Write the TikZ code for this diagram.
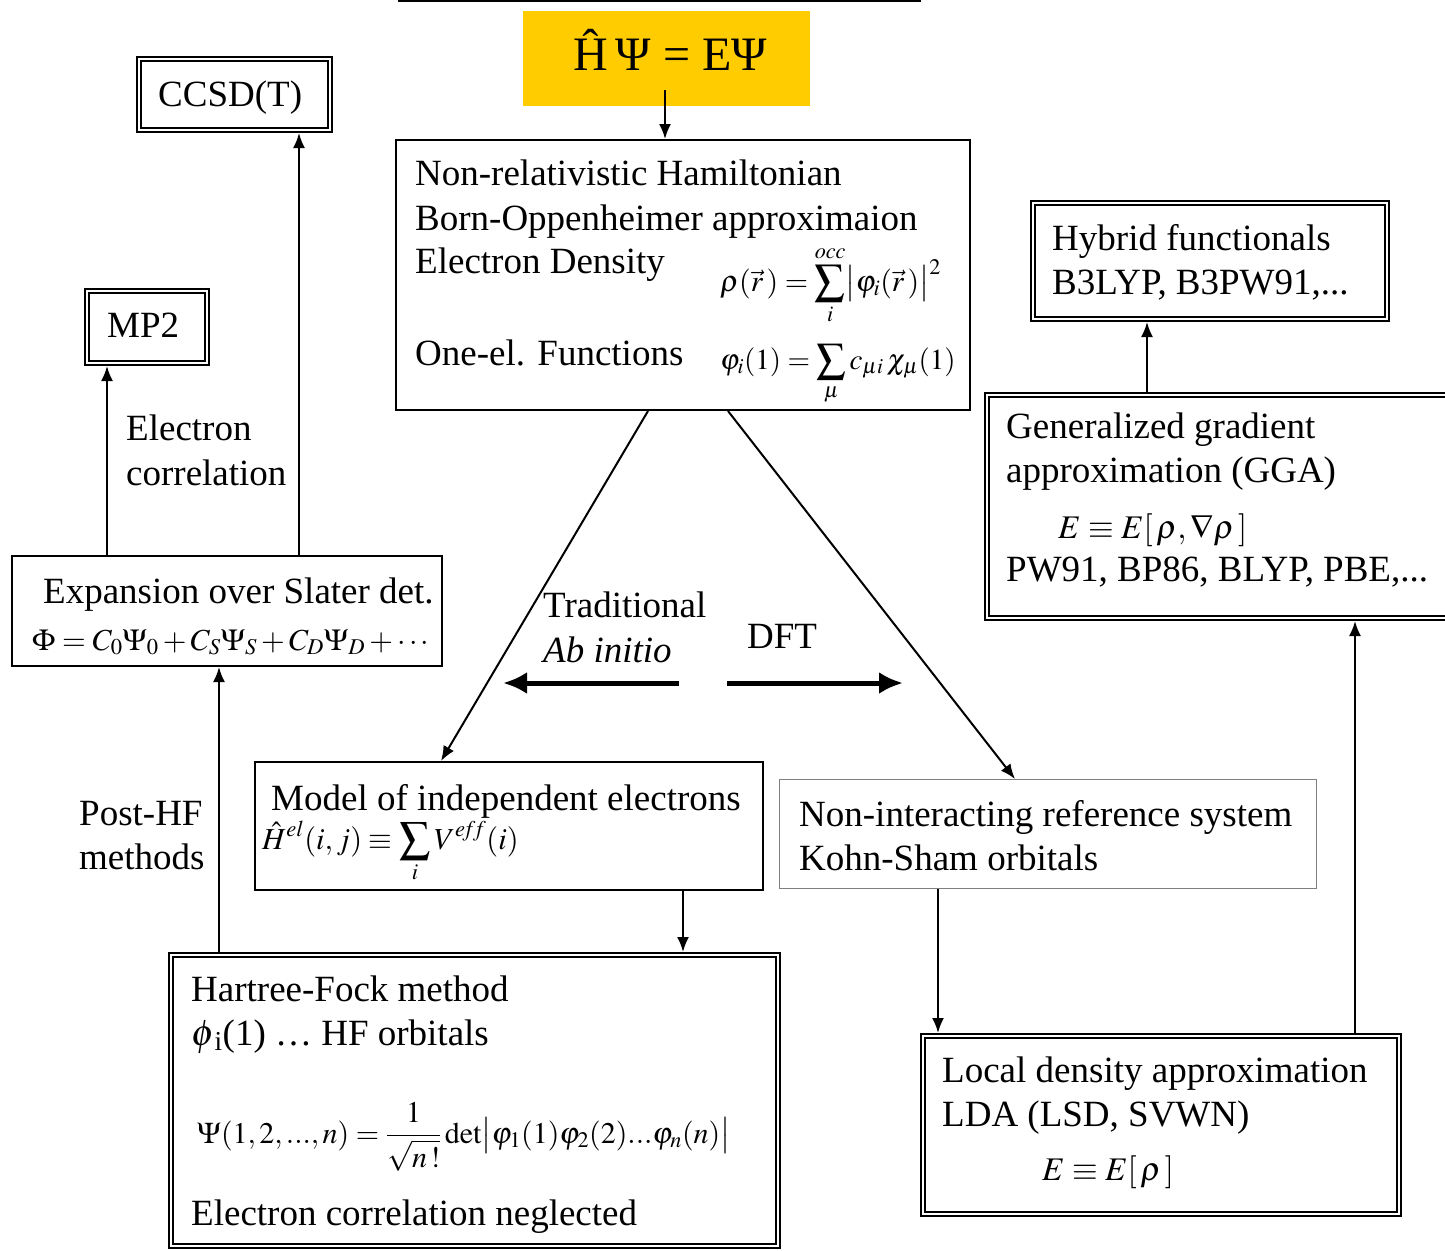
\documentclass[tikz,border=0pt]{standalone}
\usepackage{mathptmx}
\usepackage{fontspec}
\setmainfont{Liberation Serif}
\usetikzlibrary{arrows.meta}
\definecolor{gold}{HTML}{FFCC00}
\definecolor{greyline}{HTML}{7F7F7F}
\begin{document}
\begin{tikzpicture}[x=1pt,y=-1pt,
  txt/.style={anchor=base west, inner sep=0pt, font=\fontsize{37}{44}\selectfont},
  mth/.style={anchor=base west, inner sep=0pt, font=\fontsize{#1}{40}\selectfont},
  mth/.default=33,
  sbox/.style={draw, line width=2pt, inner sep=0pt, outer sep=1pt, anchor=north west},
  gbox/.style={draw=greyline, line width=1.3pt, inner sep=0pt, outer sep=0.65pt, anchor=north west},
  dbox/.style={draw, line width=1.8pt, double, double distance=2.2pt, inner sep=0pt, outer sep=2.9pt, anchor=north west},
  arr/.style={line width=2pt, -{Latex[length=15pt,width=12pt]}},
  bigarr/.style={line width=5pt, -{Latex[length=24pt,width=22pt]}}]
\useasboundingbox (0,0) rectangle (1445,1250);

% top rule
\coordinate (r1) at (398,1);
\coordinate (r2) at (921,1);
\draw[line width=2pt] (r1) -- (r2);

% yellow box
\node[fill=gold, inner sep=0pt, anchor=north west, minimum width=287pt, minimum height=95pt] (y) at (523,11) {};
\node[anchor=base west, inner sep=0pt, font=\fontsize{48}{48}\selectfont] (eq) at (573,70) {Ĥ\,Ψ = EΨ};

% boxes
\node[sbox, minimum width=574pt, minimum height=270pt] (c) at (395,139) {};
\node[dbox, minimum width=191.2pt, minimum height=71.2pt] (ccsd) at (136,56) {};
\node[dbox, minimum width=120.2pt, minimum height=72.2pt] (mp2) at (84,288) {};
\node[sbox, minimum width=430pt, minimum height=110pt] (exp) at (11,555) {};
\node[sbox, minimum width=508pt, minimum height=128pt] (model) at (254,761) {};
\node[dbox, minimum width=607.2pt, minimum height=291.2pt] (hf) at (168,952) {};
\node[gbox, minimum width=536.7pt, minimum height=108.7pt] (nonint) at (779,779) {};
\node[dbox, minimum width=476.2pt, minimum height=178.2pt] (lda) at (920,1033) {};
\node[dbox, minimum width=466.2pt, minimum height=223.2pt] (gga) at (984,392) {};
\node[dbox, minimum width=354.2pt, minimum height=116.2pt] (hyb) at (1030,200) {};

% central box text
\node[txt] (c1) at (415,185) {Non-relativistic Hamiltonian};
\node[txt] (c2) at (415,230) {Born-Oppenheimer approximaion};
\node[txt] (c3) at (415,273) {Electron Density};
\node[mth=30] (c4) at (720,291) {$\displaystyle \rho(\vec r\,) = \sum_{i}^{occ}\bigl|\varphi_i(\vec r\,)\bigr|^2$};
\node[txt] (c5) at (415,365) {One-el. Functions};
\node[mth=29] (c6) at (720,369) {$\displaystyle \varphi_i(1) = \sum_{\mu} c_{\mu i}\,\chi_{\mu}(1)$};

% CCSD(T), MP2
\node[txt] (t-ccsd) at (158,106) {CCSD(T)};
\node[txt] (t-mp2) at (107,337) {MP2};

% Electron correlation
\node[txt] (ec1) at (126,440) {Electron};
\node[txt] (ec2) at (126,485) {correlation};

% expansion
\node[txt] (e1) at (43,603) {Expansion over Slater det.};
\node[mth=30.5] (e2) at (32,650) {$\Phi = C_0\Psi_0 + C_S\Psi_S + C_D\Psi_D + \cdots$};

% Post-HF
\node[txt] (ph1) at (79,825) {Post-HF};
\node[txt] (ph2) at (79,869) {methods};

% Traditional / DFT
\node[txt] (tr1) at (543,617) {Traditional};
\node[txt] (tr2) at (543,662) {\itshape Ab initio};
\node[txt] (dft) at (747,648) {DFT};

% model
\node[txt] (m1) at (271,810) {Model of independent electrons};
\node[mth=30.5] (m2) at (262,849) {$\displaystyle \hat H^{el}(i,j) \equiv \sum_{i} V^{e\!f\!f}(i)$};

% HF
\node[txt] (h1) at (191,1001) {Hartree-Fock method};
\node[txt] (h2) at (191,1045) {$\phi$\textsubscript{i}(1) … HF orbitals};
\node[mth=30] (h3) at (197,1143) {$\displaystyle \Psi(1,2,...,n) = \frac{1}{\sqrt{n\,!}}\det\bigl|\varphi_1(1)\varphi_2(2)...\varphi_n(n)\bigr|$};
\node[txt] (h4) at (191,1225) {Electron correlation neglected};

% non-interacting
\node[txt] (n1) at (799,826) {Non-interacting reference system};
\node[txt] (n2) at (799,870) {Kohn-Sham orbitals};

% LDA
\node[txt] (l1) at (942,1082) {Local density approximation};
\node[txt] (l2) at (942,1126) {LDA (LSD, SVWN)};
\node[mth] (l3) at (1042,1180) {$E \equiv E[\,\rho\,]$};

% GGA
\node[txt] (g1) at (1006,438) {Generalized gradient};
\node[txt] (g2) at (1006,482) {approximation (GGA)};
\node[mth] (g3) at (1058,538) {$E \equiv E[\,\rho,\nabla\rho\,]$};
\node[txt] (g4) at (1006,581) {PW91, BP86, BLYP, PBE,...};

% Hybrid
\node[txt] (hy1) at (1052,250) {Hybrid functionals};
\node[txt] (hy2) at (1052,294) {B3LYP, B3PW91,...};

% connector x positions
\coordinate (ys) at (665,90);
\coordinate (x107) at (107,0);
\coordinate (x299) at (299,0);
\coordinate (x219) at (219,0);
\coordinate (x648) at (648,0);
\coordinate (x441) at (441,0);
\coordinate (x728) at (728,0);
\coordinate (x1015) at (1015,0);
\coordinate (x683) at (683,0);
\coordinate (x938) at (938,0);
\coordinate (x1355) at (1355,0);
\coordinate (x1147) at (1147,0);

\draw[arr] (ys) -- (ys |- c.north);
\draw[arr] (exp.north -| x107) -- (mp2.south -| x107);
\draw[arr] (exp.north -| x299) -- (ccsd.south -| x299);
\draw[arr] (hf.north -| x219) -- (exp.south -| x219);
\draw[arr] (c.south -| x648) -- (model.north -| x441);
\draw[arr] (c.south -| x728) -- (nonint.north -| x1015);
\draw[arr] (model.south -| x683) -- (hf.north -| x683);
\draw[arr] (nonint.south -| x938) -- (lda.north -| x938);
\draw[arr] (lda.north -| x1355) -- (gga.south -| x1355);
\draw[arr] (gga.north -| x1147) -- (hyb.south -| x1147);

% thick arrows
\coordinate (la1) at (679,683);
\coordinate (la2) at (503,683);
\coordinate (ra1) at (727,683);
\coordinate (ra2) at (903,683);
\draw[bigarr] (la1) -- (la2);
\draw[bigarr] (ra1) -- (ra2);
\end{tikzpicture}
\end{document}
